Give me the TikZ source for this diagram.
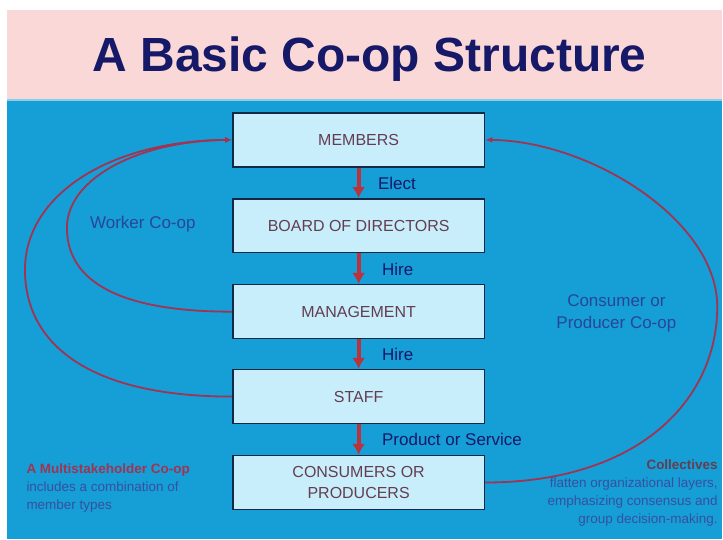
\documentclass[tikz,border=0pt]{standalone}
\usepackage{fontspec}
\setmainfont{Liberation Sans}
\usetikzlibrary{arrows.meta}
\definecolor{skyblue}{RGB}{22,158,214}
\definecolor{paleblue}{RGB}{200,238,252}
\definecolor{headpink}{RGB}{250,216,216}
\definecolor{navy}{RGB}{22,24,104}
\definecolor{boxline}{RGB}{20,40,70}
\definecolor{boxtext}{RGB}{100,62,80}
\definecolor{flowred}{RGB}{185,50,62}
\definecolor{loopred}{RGB}{160,52,82}
\definecolor{loopblue}{RGB}{40,70,150}
\definecolor{notetext}{RGB}{55,80,160}
\tikzset{
	box/.style={draw=boxline,line width=1.5pt,fill=paleblue,minimum width=252pt,minimum height=54pt,
		text=boxtext,font=\fontsize{16}{22}\selectfont,align=center,inner sep=0pt},
	flow/.style={-{Latex[length=11pt,width=13pt]},line width=4pt,color=flowred},
	loop/.style={-{Latex[length=7pt,width=6pt]},line width=1.8pt,color=loopred},
	lbl/.style={anchor=west,text=navy,font=\fontsize{17}{20}\selectfont},
	looplbl/.style={text=loopblue,font=\fontsize{17}{22}\selectfont,align=center},
	note/.style={text=notetext,font=\fontsize{13.5}{18}\selectfont}
}
\begin{document}
\begin{tikzpicture}[x=1pt,y=-1pt]
		\fill[white] (0,0) rectangle (723,540);
		\fill[headpink] (7,10) rectangle (723,100);
		\fill[skyblue] (7,100) rectangle (723,540);
		\draw[line width=1.5pt,color=skyblue!50!white] (7,100) -- (723,100);
		\node[anchor=base,text=navy,font=\fontsize{48}{50}\selectfont\bfseries] (title) at (370,72) {A Basic Co-op Structure};
		\node[box] (members) at (359,140) {MEMBERS};
		\node[box] (board) at (359,226) {BOARD OF DIRECTORS};
		\node[box] (management) at (359,312) {MANAGEMENT};
		\node[box] (staff) at (359,397) {STAFF};
		\node[box] (consumers) at (359,483) {CONSUMERS OR\\PRODUCERS};
		\draw[flow] (members) -- (board);
		\draw[flow] (board) -- (management);
		\draw[flow] (management) -- (staff);
		\draw[flow] (staff) -- (consumers);
		\node[lbl] (elect) at (375,184) {Elect};
		\node[lbl] (hire1) at (379,270) {Hire};
		\node[lbl] (hire2) at (379,355) {Hire};
		\node[lbl] (product) at (379,440) {Product or Service};
		\draw[loop] (staff.west) .. controls (90,397) and (25,345) .. (25,270) .. controls (25,195) and (110,141) .. (members.west);
		\draw[loop] (management.west) .. controls (120,312) and (67,282) .. (67,228) .. controls (67,178) and (140,141) .. (members.west);
		\draw[loop] (consumers.east) .. controls (640,483) and (718,400) .. (718,307) .. controls (718,220) and (590,141) .. (members.east);
		\node[looplbl] (worker) at (143,224) {Worker Co-op};
		\node[looplbl] (consumer) at (617,314) {Consumer or\\Producer Co-op};
		\node[note,anchor=north west,align=left] (multi) at (23,461) {\textbf{\color{loopred}A Multistakeholder Co-op}\\includes a combination of\\member types};
		\node[note,anchor=north east,align=right] (collect) at (722,457) {\textbf{\color{boxtext}Collectives}\\flatten organizational layers,\\emphasizing consensus and\\group decision-making.};
\end{tikzpicture}
\end{document}
